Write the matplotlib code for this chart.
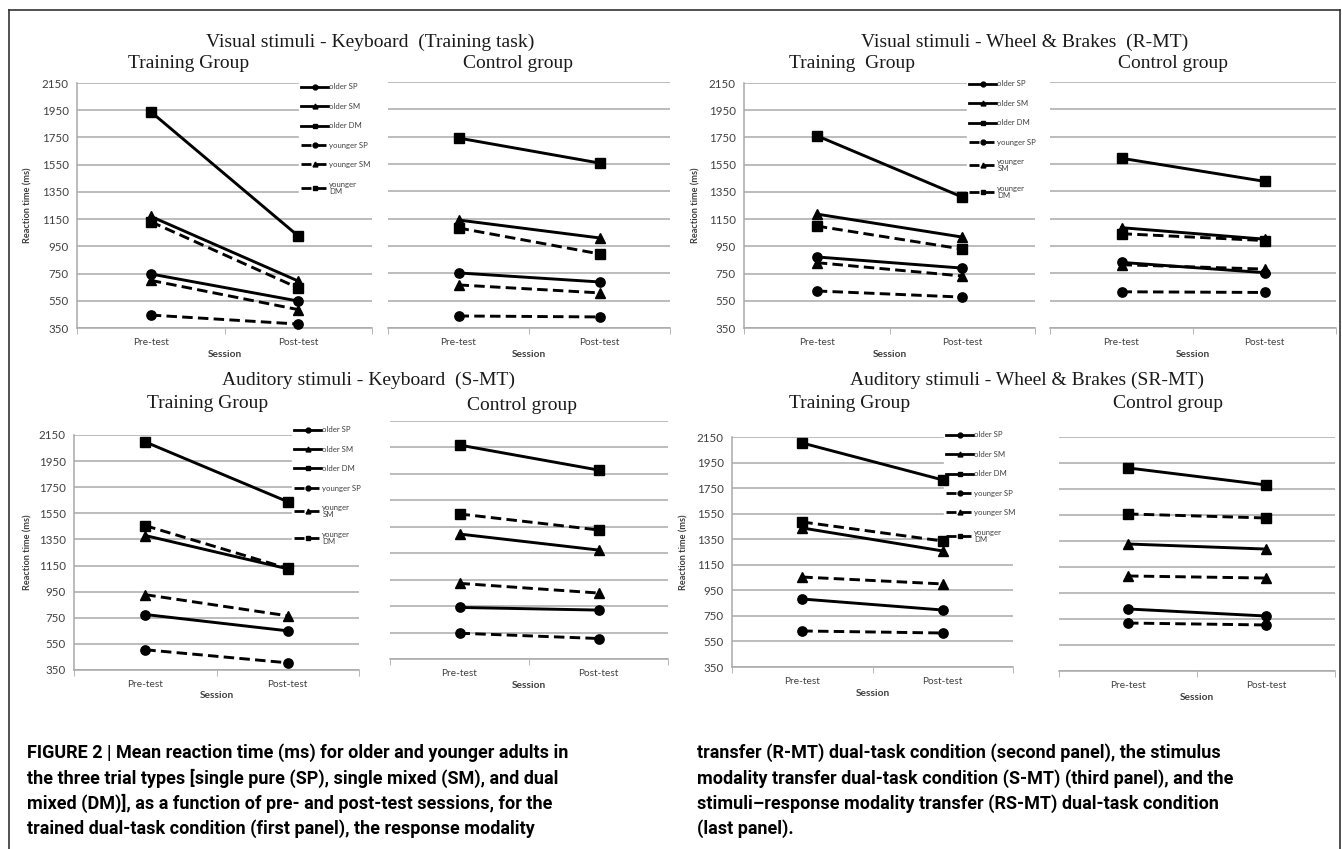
import matplotlib.pyplot as plt
from matplotlib.lines import Line2D

W, H = 1342, 849

sessions = ['Pre-test', 'Post-test']
yticks = [350, 550, 750, 950, 1150, 1350, 1550, 1750, 1950, 2150]

# order: older SP, older SM, older DM, younger SP, younger SM, younger DM
vis_key_train = [[747, 548], [1170, 695], [1939, 1026], [445, 379], [700, 485], [1131, 644]]
vis_key_ctrl = [[753, 687], [1140, 1009], [1740, 1557], [438, 431], [665, 607], [1082, 892]]
vis_wheel_train = [[872, 790], [1187, 1018], [1763, 1312], [622, 577], [830, 732], [1099, 930]]
vis_wheel_ctrl = [[830, 755], [1084, 1000], [1592, 1423], [615, 610], [813, 781], [1040, 990]]
aud_key_train = [[775, 650], [1380, 1125], [2097, 1639], [505, 405], [927, 765], [1456, 1128]]
aud_key_ctrl = [[740, 720], [1295, 1174], [1968, 1779], [545, 505], [922, 849], [1447, 1326]]
aud_wheel_train = [[882, 796], [1438, 1258], [2103, 1814], [632, 616], [1054, 1000], [1485, 1336]]
aud_wheel_ctrl = [[827, 773], [1327, 1288], [1912, 1781], [719, 704], [1081, 1065], [1558, 1527]]

legend_p1 = ['older SP', 'older SM', 'older DM', 'younger SP', 'younger SM', 'younger\nDM']
legend_p2 = ['older SP', 'older SM', 'older DM', 'younger SP', 'younger\nSM', 'younger\nDM']
legend_p3 = ['older SP', 'older SM', 'older DM', 'younger SP', 'younger\nSM', 'younger\nDM']
legend_p4 = ['older SP', 'older SM', 'older DM', 'younger SP', 'younger SM', 'younger\nDM']

markers = ['o', '^', 's', 'o', '^', 's']
dash = (0, (3.6, 1.8))
styles = ['-', '-', '-', dash, dash, dash]

TITLE_FONT = ['Liberation Serif', 'DejaVu Serif']
SMALL_FONT = ['Lato', 'DejaVu Sans']
GRID = '#a9a9a9'
TXT = '#404040'

fig = plt.figure(figsize=(W / 100, H / 100), dpi=100)


def box(x0, y0, x1, y1):
    return [x0 / W, 1 - y1 / H, (x1 - x0) / W, (y1 - y0) / H]


def group(rect, values, training, legend_labels=None, leg_xy=None, ylab_x=None):
    ax = fig.add_axes(box(*rect))
    for vals, mk, ls in zip(values, markers, styles):
        ax.plot([0, 1], vals, color='black', lw=2.1, ls=ls, marker=mk, ms=6.7,
                zorder=6, clip_on=False)
    ax.set_xlim(-0.5, 1.5)
    ax.set_ylim(350, 2150)
    ax.set_yticks(yticks)
    ax.grid(axis='y', color=GRID, lw=1.1, zorder=0)
    ax.set_axisbelow(True)
    for s in ['top', 'right']:
        ax.spines[s].set_visible(False)
    ax.spines['bottom'].set_color(GRID)
    ax.spines['bottom'].set_linewidth(1.1)
    ax.set_xticks([0, 1])
    ax.set_xticklabels(sessions, family=SMALL_FONT, fontsize=7.3, color=TXT)
    ax.set_xticks([-0.5, 0.5, 1.5], minor=True)
    ax.tick_params(axis='x', which='major', length=0, pad=7)
    ax.tick_params(axis='x', which='minor', length=4, color=GRID, direction='out')
    ax.set_xlabel('Session', family=SMALL_FONT, fontsize=7.3, fontweight='bold',
                  color=TXT, labelpad=2)
    if training:
        ax.spines['left'].set_color(GRID)
        ax.spines['left'].set_linewidth(1.1)
        ax.tick_params(axis='y', length=0, pad=6, labelsize=8.3, labelcolor=TXT)
        for t in ax.get_yticklabels():
            t.set_family(SMALL_FONT)
        ax.set_ylabel('Reaction time (ms)', family=SMALL_FONT, fontsize=6.6,
                      fontweight='bold', color=TXT)
        ax.yaxis.set_label_coords((ylab_x - rect[0]) / (rect[2] - rect[0]), 0.5)
    else:
        ax.spines['left'].set_visible(False)
        ax.tick_params(axis='y', length=0, labelleft=False)
    if legend_labels is not None:
        handles = [Line2D([], [], color='black', lw=2, ls=ls, marker=mk, ms=3.5)
                   for mk, ls in zip(markers, styles)]
        leg = ax.legend(handles, legend_labels, loc='upper left',
                        bbox_to_anchor=(leg_xy[0] / W, 1 - leg_xy[1] / H),
                        bbox_transform=fig.transFigure, frameon=True,
                        fancybox=False, edgecolor='white', facecolor='white',
                        framealpha=1, borderpad=0.3, borderaxespad=0,
                        handlelength=3.4, handletextpad=0.2, labelspacing=1.6,
                        prop={'family': SMALL_FONT, 'size': 5.6})
        for t in leg.get_texts():
            t.set_color(TXT)
            t.set_linespacing(1.0)
        leg.set_zorder(5)
    return ax


# panel 1
group((77, 83, 372, 328), vis_key_train, True, legend_p1, (299, 81), 32)
group((388, 82, 670, 328), vis_key_ctrl, False)
# panel 2
group((744, 83, 1035, 328), vis_wheel_train, True, legend_p2, (967, 78), 700)
group((1050, 82, 1336, 328), vis_wheel_ctrl, False)
# panel 3
group((74, 435, 359, 670), aud_key_train, True, legend_p3, (292, 424), 32)
group((390, 421, 668, 659), aud_key_ctrl, False)
# panel 4
group((732, 437, 1013, 667), aud_wheel_train, True, legend_p4, (944, 429), 688)
group((1059, 437, 1335, 671), aud_wheel_ctrl, False)

titles = [
    (370, 42, 'Visual stimuli - Keyboard  (Training task)'),
    (189, 63, 'Training Group'),
    (518, 63, 'Control group'),
    (1025, 42, 'Visual stimuli - Wheel & Brakes  (R-MT)'),
    (852, 63, 'Training  Group'),
    (1173, 63, 'Control group'),
    (368, 380, 'Auditory stimuli - Keyboard  (S-MT)'),
    (208, 403, 'Training Group'),
    (522, 405, 'Control group'),
    (1027, 380, 'Auditory stimuli - Wheel & Brakes (SR-MT)'),
    (850, 403, 'Training Group'),
    (1168, 403, 'Control group'),
]
for x, y, s in titles:
    fig.text(x / W, 1 - y / H, s, ha='center', va='center', family=TITLE_FONT,
             fontsize=14, color='#1a1a1a')

cap_left = [
    'FIGURE 2 | Mean reaction time (ms) for older and younger adults in',
    'the three trial types [single pure (SP), single mixed (SM), and dual',
    'mixed (DM)], as a function of pre- and post-test sessions, for the',
    'trained dual-task condition (first panel), the response modality',
]
cap_right = [
    'transfer (R-MT) dual-task condition (second panel), the stimulus',
    'modality transfer dual-task condition (S-MT) (third panel), and the',
    'stimuli\u2013response modality transfer (RS-MT) dual-task condition',
    '(last panel).',
]
cap_font = ['Roboto', 'DejaVu Sans']
for i, (l, r) in enumerate(zip(cap_left, cap_right)):
    y = 1 - (753 + i * 25.3) / H
    fig.text(27 / W, y, l, ha='left', va='center', family=cap_font,
             fontweight='bold', fontsize=13, color='black')
    fig.text(697 / W, y, r, ha='left', va='center', family=cap_font,
             fontweight='bold', fontsize=13, color='black')

# frame around the figure
fig.add_artist(Line2D([9 / W, 1340 / W], [1 - 10 / H, 1 - 10 / H], color='#333333', lw=1.2))
fig.add_artist(Line2D([9 / W, 9 / W], [1 - 10 / H, 0], color='#333333', lw=1.2))
fig.add_artist(Line2D([1340 / W, 1340 / W], [1 - 10 / H, 0], color='#333333', lw=1.2))

fig.savefig('out.png', dpi=100)
